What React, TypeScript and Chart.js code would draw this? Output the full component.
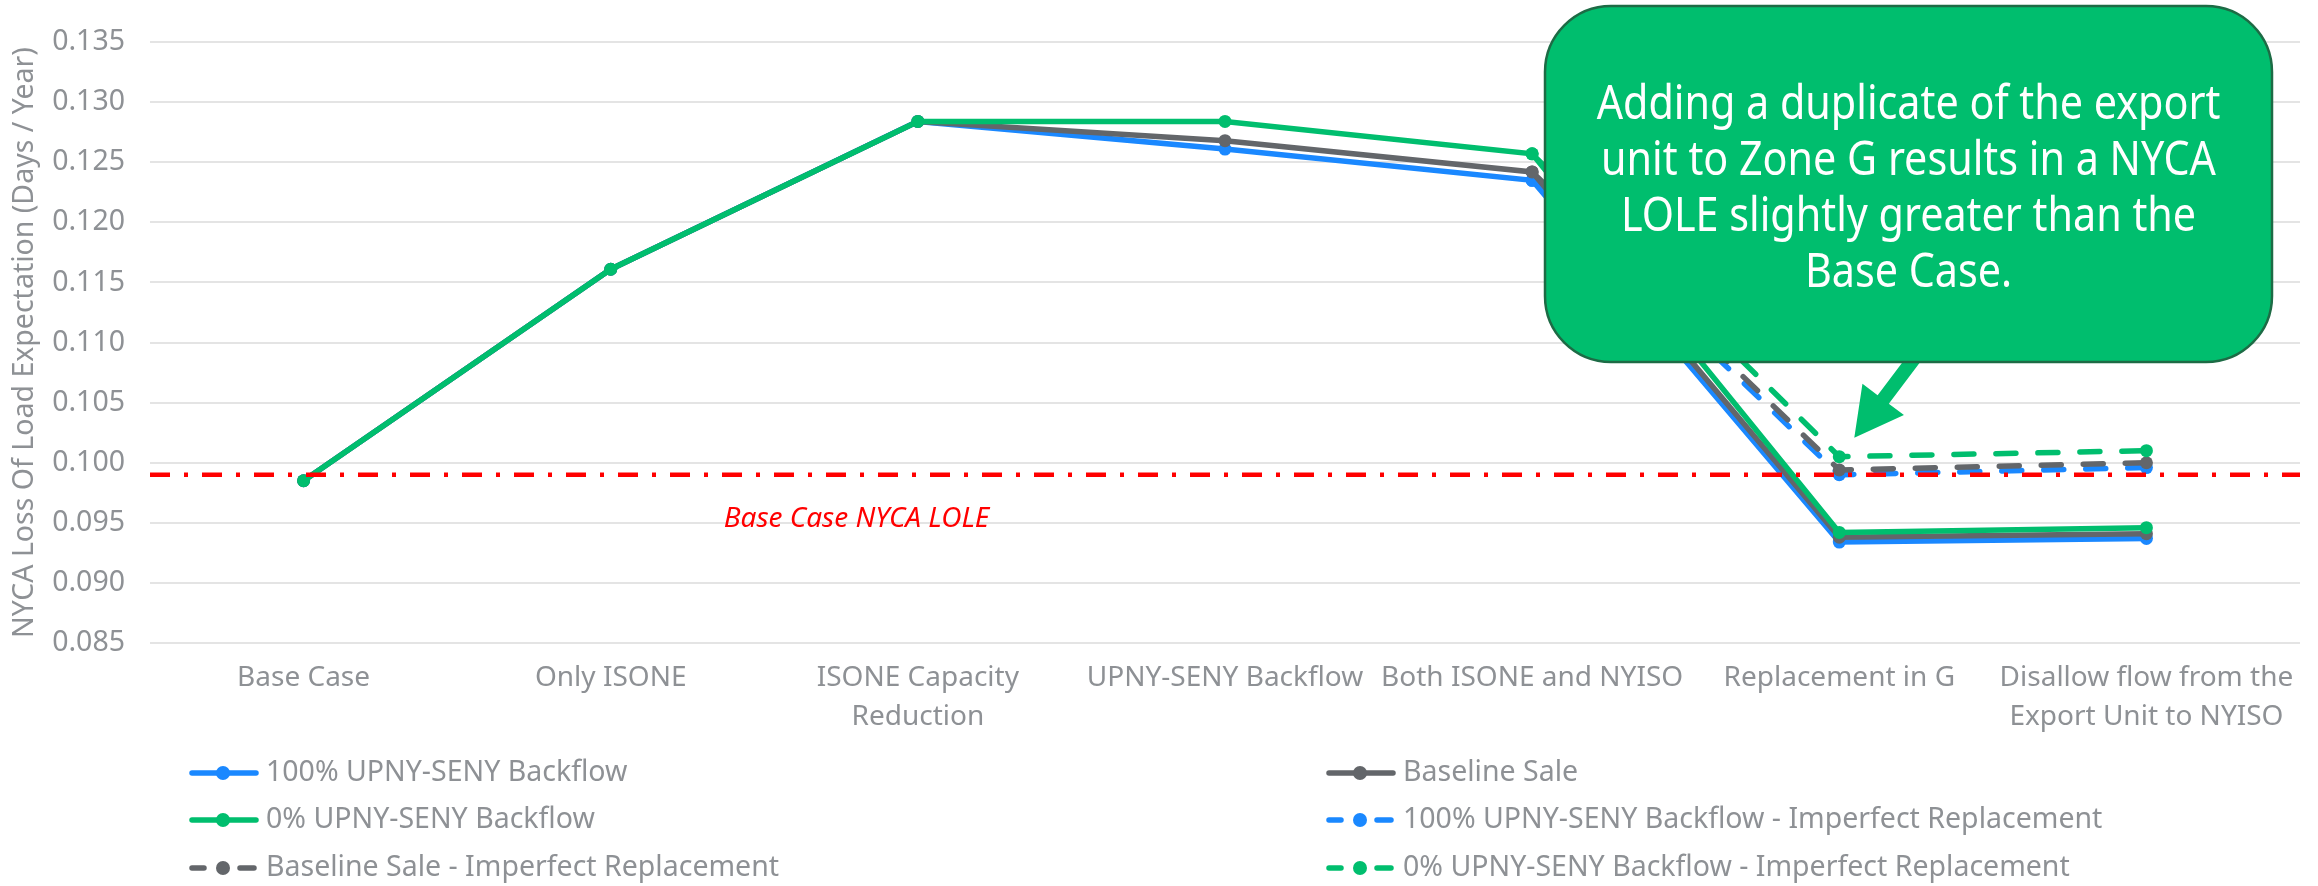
import React, { useEffect, useRef } from "react";
import { Chart, registerables } from "chart.js";

Chart.register(...registerables);

// ---------- data ----------
const categories: (string | string[])[] = [
  "Base Case",
  "Only ISONE",
  ["ISONE Capacity", "Reduction"],
  "UPNY-SENY Backflow",
  "Both ISONE and NYISO",
  "Replacement in G",
  ["Disallow flow from the", "Export Unit to NYISO"],
];

const backflow100 = [0.0985, 0.1161, 0.1284, 0.1261, 0.1235, 0.0934, 0.0937];
const baselineSale = [0.0985, 0.1161, 0.1284, 0.1268, 0.1242, 0.0938, 0.0941];
const backflow0 = [0.0985, 0.1161, 0.1284, 0.1284, 0.1257, 0.0942, 0.0946];
const backflow100Imperfect = [null, null, null, null, 0.1235, 0.099, 0.0996];
const baselineSaleImperfect = [null, null, null, null, 0.1242, 0.0994, 0.1];
const backflow0Imperfect = [null, null, null, null, 0.1257, 0.1005, 0.101];

const seriesLabels = [
  "100% UPNY-SENY Backflow",
  "Baseline Sale",
  "0% UPNY-SENY Backflow",
  "100% UPNY-SENY Backflow - Imperfect Replacement",
  "Baseline Sale - Imperfect Replacement",
  "0% UPNY-SENY Backflow - Imperfect Replacement",
];

const yMin = 0.085;
const yMax = 0.135;
const yStep = 0.005;
const yTitle = "NYCA Loss Of Load Expectation (Days / Year)";

const baseCaseLole = 0.099;
const baseCaseLabel = "Base Case NYCA LOLE";

const calloutLines = [
  "Adding a duplicate of the export",
  "unit to Zone G results in a NYCA",
  "LOLE slightly greater than the",
  "Base Case.",
];

// ---------- styles ----------
const BLUE = "#1A88FF";
const GREEN = "#00BE6E";
const GRAY = "#63666A";
const RED = "#FF0000";
const TEXT = "#8E9195";
const FONT = "'Noto Sans', sans-serif";

function mk(label: string, data: (number | null)[], color: string, dashed: boolean, order: number) {
  return {
    label,
    data,
    borderColor: color,
    backgroundColor: color,
    borderWidth: 5.5,
    pointRadius: 6.5,
    pointHoverRadius: 6.5,
    pointBackgroundColor: color,
    pointBorderColor: color,
    pointBorderWidth: 0,
    borderDash: dashed ? [20, 22] : [],
    borderCapStyle: "round" as const,
    spanGaps: false,
    tension: 0,
    order,
    _dashed: dashed,
  };
}

const refLinePlugin = {
  id: "refLine",
  afterDatasetsDraw(chart: any) {
    const { ctx, chartArea, scales } = chart;
    const y = scales.y.getPixelForValue(baseCaseLole);
    ctx.save();
    ctx.strokeStyle = RED;
    ctx.lineWidth = 4.5;
    ctx.setLineDash([20, 14, 4, 14]);
    ctx.beginPath();
    ctx.moveTo(chartArea.left, y);
    ctx.lineTo(chartArea.right, y);
    ctx.stroke();
    ctx.setLineDash([]);
    const x1 = scales.x.getPixelForValue(1);
    const x2 = scales.x.getPixelForValue(2);
    ctx.font = `italic 28px ${FONT}`;
    ctx.fillStyle = RED;
    ctx.textAlign = "center";
    ctx.textBaseline = "middle";
    ctx.fillText(baseCaseLabel, x1 + 0.8 * (x2 - x1), y + 44);
    ctx.restore();
  },
};

function roundRect(ctx: CanvasRenderingContext2D, x: number, y: number, w: number, h: number, r: number) {
  ctx.beginPath();
  ctx.moveTo(x + r, y);
  ctx.lineTo(x + w - r, y);
  ctx.arcTo(x + w, y, x + w, y + r, r);
  ctx.lineTo(x + w, y + h - r);
  ctx.arcTo(x + w, y + h, x + w - r, y + h, r);
  ctx.lineTo(x + r, y + h);
  ctx.arcTo(x, y + h, x, y + h - r, r);
  ctx.lineTo(x, y + r);
  ctx.arcTo(x, y, x + r, y, r);
  ctx.closePath();
}

const calloutPlugin = {
  id: "callout",
  afterDraw(chart: any) {
    const { ctx, scales } = chart;
    const bx = 1545, by = 6, bw = 727, bh = 356;
    // arrow
    const tx = scales.x.getPixelForValue(5) + 15;
    const ty = scales.y.getPixelForValue(backflow0Imperfect[5] as number) - 19;
    const sx = 1919, sy = by + bh - 10;
    const dx = tx - sx, dy = ty - sy;
    const len = Math.hypot(dx, dy);
    const ux = dx / len, uy = dy / len;
    const nx = -uy, ny = ux;
    const headLen = 48, headHalf = 26, shaftHalf = 7;
    const bxh = tx - ux * headLen, byh = ty - uy * headLen;
    ctx.save();
    ctx.fillStyle = GREEN;
    ctx.beginPath();
    ctx.moveTo(sx + nx * shaftHalf, sy + ny * shaftHalf);
    ctx.lineTo(bxh + nx * shaftHalf, byh + ny * shaftHalf);
    ctx.lineTo(bxh + nx * headHalf, byh + ny * headHalf);
    ctx.lineTo(tx, ty);
    ctx.lineTo(bxh - nx * headHalf, byh - ny * headHalf);
    ctx.lineTo(bxh - nx * shaftHalf, byh - ny * shaftHalf);
    ctx.lineTo(sx - nx * shaftHalf, sy - ny * shaftHalf);
    ctx.closePath();
    ctx.fill();
    // box
    roundRect(ctx, bx, by, bw, bh, 66);
    ctx.fillStyle = GREEN;
    ctx.fill();
    ctx.strokeStyle = "#1D6B45";
    ctx.lineWidth = 2.5;
    ctx.stroke();
    // text
    ctx.fillStyle = "#FFFFFF";
    ctx.font = `48px ${FONT}`;
    ctx.textAlign = "center";
    ctx.textBaseline = "middle";
    const cx = bx + bw / 2;
    calloutLines.forEach((line, i) => {
      ctx.save();
      ctx.translate(cx, 105 + i * 56);
      ctx.scale(0.86, 1);
      ctx.fillText(line, 0, 0);
      ctx.restore();
    });
    ctx.restore();
  },
};

const legendPlugin = {
  id: "customLegend",
  afterDraw(chart: any) {
    const { ctx } = chart;
    const ds = chart.data.datasets;
    const cols = [190, 1327];
    const rows = [773, 820, 868];
    ctx.save();
    ds.forEach((d: any, i: number) => {
      const x = cols[i % 2];
      const y = rows[Math.floor(i / 2)];
      const color = d.borderColor;
      ctx.strokeStyle = color;
      ctx.fillStyle = color;
      ctx.lineWidth = 5.5;
      ctx.lineCap = "round";
      ctx.beginPath();
      if (d._dashed) {
        ctx.moveTo(x + 2, y);
        ctx.lineTo(x + 14, y);
        ctx.moveTo(x + 50, y);
        ctx.lineTo(x + 64, y);
      } else {
        ctx.moveTo(x + 2, y);
        ctx.lineTo(x + 66, y);
      }
      ctx.stroke();
      ctx.beginPath();
      ctx.arc(x + 33, y, 7, 0, Math.PI * 2);
      ctx.fill();
      ctx.fillStyle = TEXT;
      ctx.font = `28.5px ${FONT}`;
      ctx.textAlign = "left";
      ctx.textBaseline = "middle";
      ctx.fillText(d.label, x + 76, y);
    });
    ctx.restore();
  },
};

export default function App() {
  const ref = useRef<HTMLCanvasElement>(null);
  useEffect(() => {
    const canvas = ref.current!;
    const chart = new Chart(canvas, {
      type: "line",
      data: {
        labels: categories as any,
        datasets: [
          mk(seriesLabels[0], backflow100, BLUE, false, 2),
          mk(seriesLabels[1], baselineSale, GRAY, false, 1),
          mk(seriesLabels[2], backflow0, GREEN, false, 0),
          mk(seriesLabels[3], backflow100Imperfect, BLUE, true, 5),
          mk(seriesLabels[4], baselineSaleImperfect, GRAY, true, 4),
          mk(seriesLabels[5], backflow0Imperfect, GREEN, true, 3),
        ] as any,
      },
      options: {
        animation: false,
        responsive: true,
        maintainAspectRatio: false,
        devicePixelRatio: 1,
        layout: { padding: { top: 38, right: 18, bottom: 143, left: 0 } },
        plugins: { legend: { display: false }, tooltip: { enabled: false } },
        scales: {
          x: {
            type: "category",
            offset: true,
            grid: { display: false, drawTicks: false },
            border: { display: false },
            ticks: {
              autoSkip: false,
              maxRotation: 0,
              minRotation: 0,
              padding: 15,
              color: TEXT,
              font: { family: FONT, size: 28, lineHeight: 1.4 },
            },
            afterFit: (s: any) => {
              s.height = 100;
            },
          },
          y: {
            min: yMin,
            max: yMax,
            ticks: {
              stepSize: yStep,
              padding: 25,
              color: TEXT,
              font: { family: FONT, size: 28.5 },
              callback: (v: any) => Number(v).toFixed(3),
            },
            grid: { color: "#E4E4E4", lineWidth: 2, drawTicks: false },
            border: { display: false },
            title: {
              display: true,
              text: yTitle,
              color: TEXT,
              font: { family: FONT, size: 28.5 },
              padding: { top: 8, bottom: 0 },
            },
            afterFit: (s: any) => {
              s.width = 150;
            },
          },
        },
      } as any,
      plugins: [refLinePlugin, calloutPlugin, legendPlugin],
    });
    return () => chart.destroy();
  }, []);
  return (
    <div style={{ position: "fixed", left: 0, top: 0, width: 2318, height: 886, background: "#fff" }}>
      <canvas ref={ref} />
    </div>
  );
}
